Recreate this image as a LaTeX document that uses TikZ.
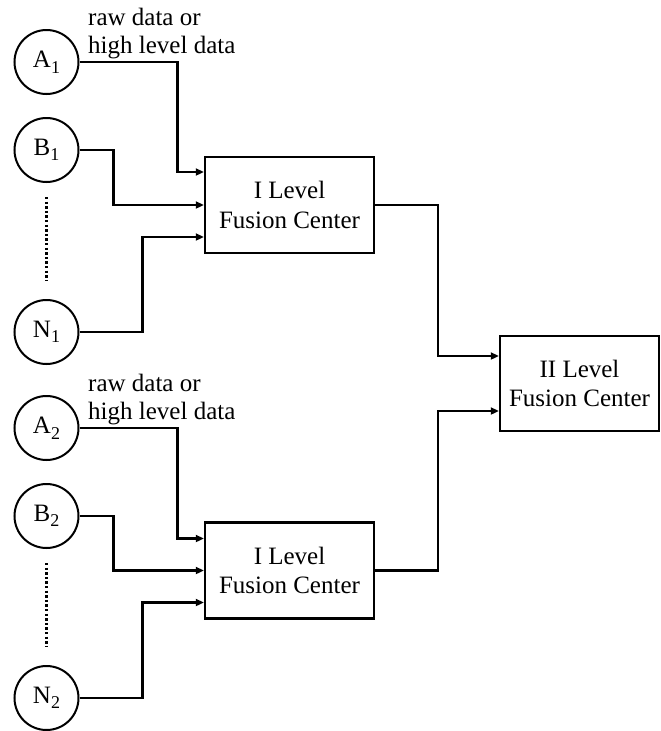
\documentclass[tikz,border=0pt]{standalone}
\usepackage{fontspec}
\setmainfont{Liberation Serif}
\usetikzlibrary{arrows.meta}
\newcommand{\sensor}[2]{#1\raisebox{-5.5pt}{\fontsize{18}{18}\selectfont #2}}
\begin{document}
\begin{tikzpicture}[x=1pt,y=-1pt,
  every node/.style={font=\fontsize{25}{29.5}\selectfont},
  sensor/.style={draw,circle,line width=2pt,minimum size=64pt,inner sep=0pt},
  center/.style={draw,rectangle,line width=2.4pt,align=center,inner sep=0pt},
  conn/.style={line width=2.2pt,-{Triangle[length=8pt,width=7pt]}},
  dots/.style={line width=3.2pt,dash pattern=on 2.4pt off 2.2pt},
  lbl/.style={anchor=base west,inner sep=0pt}]
\useasboundingbox (0,0) rectangle (661,731);

% first group of sensors
\node[sensor] (A1) at (46.5,62)  {\sensor{A}{1}};
\node[sensor] (B1) at (46.5,150) {\sensor{B}{1}};
\node[sensor] (N1) at (46.5,332) {\sensor{N}{1}};
\node[lbl] (ta1) at (88,25) {raw data or};
\node[lbl] (tb1) at (88,53) {high level data};

% second group of sensors
\node[sensor] (A2) at (46.5,428) {\sensor{A}{2}};
\node[sensor] (B2) at (46.5,516) {\sensor{B}{2}};
\node[sensor] (N2) at (46.5,698) {\sensor{N}{2}};
\node[lbl] (ta2) at (88,391) {raw data or};
\node[lbl] (tb2) at (88,419) {high level data};

% fusion centers
\node[center,minimum width=169pt,minimum height=96pt] (F1) at (289.5,205)
  {I Level\\Fusion Center};
\node[center,minimum width=169pt,minimum height=96pt] (F2) at (289.5,570.5)
  {I Level\\Fusion Center};
\node[center,minimum width=159pt,minimum height=95pt] (F3) at (579.5,383.5)
  {II Level\\Fusion Center};

% ellipsis between B and N
\draw[dots] ([yshift=-14pt]B1.south) -- ([yshift=18pt]N1.north);
\draw[dots] ([yshift=-14pt]B2.south) -- ([yshift=18pt]N2.north);

% sensor links, first group
\draw[conn] (A1.east) -- ++(98,0) |- ([yshift=33pt]F1.west);
\draw[conn] (B1.east) -- ++(34,0) |- (F1.west);
\draw[conn] (N1.east) -- ++(63,0) |- ([yshift=-32pt]F1.west);

% sensor links, second group
\draw[conn] (A2.east) -- ++(98,0) |- ([yshift=32pt]F2.west);
\draw[conn] (B2.east) -- ++(34,0) |- (F2.west);
\draw[conn] (N2.east) -- ++(63,0) |- ([yshift=-32pt]F2.west);

% first level to second level
\draw[conn] (F1.east) -- ++(63,0) |- ([yshift=27.5pt]F3.west);
\draw[conn] (F2.east) -- ++(63,0) |- ([yshift=-27.5pt]F3.west);
\end{tikzpicture}
\end{document}
